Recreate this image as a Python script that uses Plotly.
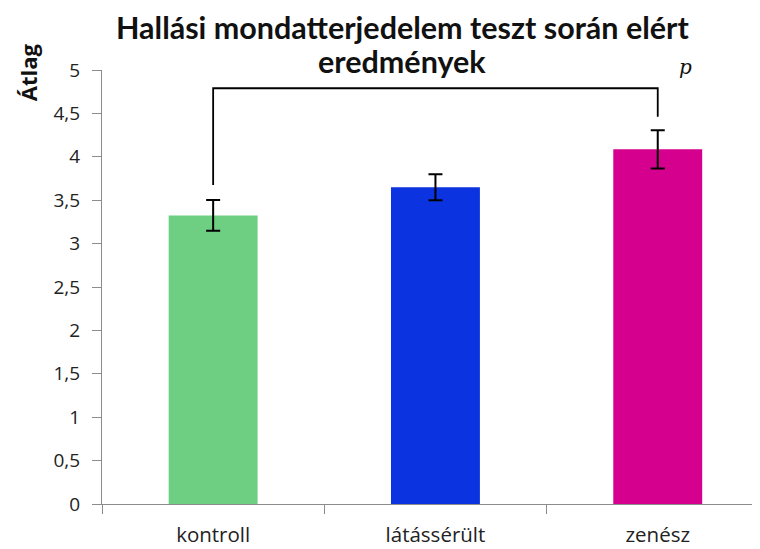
import plotly.graph_objects as go

categories = ["kontroll", "látássérült", "zenész"]
means = [3.325, 3.649, 4.086]
errors = [0.176, 0.15, 0.22]
bar_colors = ["#6ECE82", "#0B33E0", "#D6008F"]
y_ticks = [0, 0.5, 1, 1.5, 2, 2.5, 3, 3.5, 4, 4.5, 5]

bracket_x = ["kontroll", "kontroll", "zenész", "zenész"]
bracket_y = [3.675, 4.79, 4.79, 4.46]

title_lines = ["Hallási mondatterjedelem teszt során elért", "eredmények"]
y_title = "Átlag"
sig_label = "p"

fig = go.Figure()
fig.add_trace(go.Bar(
    x=categories, y=means, width=0.4,
    marker=dict(color=bar_colors, line=dict(width=0)),
    error_y=dict(type="data", array=errors, color="black", thickness=2, width=7),
    showlegend=False, hoverinfo="skip",
))
fig.add_trace(go.Scatter(
    x=bracket_x, y=bracket_y, mode="lines",
    line=dict(color="black", width=1.8), showlegend=False, hoverinfo="skip",
    cliponaxis=False,
))

ytick_font = dict(family="Open Sans, Lato, sans-serif", size=19, color="#222222")
xtick_font = dict(family="Open Sans, Lato, sans-serif", size=20.5, color="#222222")
title_font = dict(family="Lato, Open Sans, sans-serif", size=30.5, color="#111111", weight="bold")

fig.update_layout(
    width=752, height=541,
    margin=dict(l=94, r=0, t=62, b=45),
    paper_bgcolor="white", plot_bgcolor="white",
    separators=", ",
    xaxis=dict(
        type="category", range=[-0.5, 2.46], tickson="boundaries",
        showline=True, linecolor="#8c8c8c", linewidth=1.3,
        ticks="outside", ticklen=9, tickcolor="#8c8c8c", tickwidth=1.3,
        tickfont=xtick_font, showgrid=False, zeroline=False,
        ticklabelstandoff=12, automargin=False,
    ),
    yaxis=dict(
        range=[0, 5], tickvals=y_ticks,
        showline=True, linecolor="#8c8c8c", linewidth=1.3,
        ticks="outside", ticklen=9, tickcolor="#8c8c8c", tickwidth=1.3,
        tickfont=ytick_font, showgrid=False, zeroline=False,
        ticklabelstandoff=8, automargin=False,
    ),
    annotations=[
        dict(text=title_lines[0], xref="paper", yref="paper", x=0.456, y=1.1,
             xanchor="center", yanchor="middle", showarrow=False, font=title_font),
        dict(text=title_lines[1], xref="paper", yref="paper", x=0.456, y=1.02,
             xanchor="center", yanchor="middle", showarrow=False, font=title_font),
        dict(text=y_title, xref="paper", yref="paper", x=-0.1125, y=0.995,
             xanchor="center", yanchor="middle", textangle=-90, showarrow=False,
             font=dict(family="Open Sans, Lato, sans-serif", size=22, color="#111111", weight="bold")),
        dict(text="<i>" + sig_label + "</i>", xref="x", yref="paper", x=2.127, y=1.007,
             xanchor="center", yanchor="middle", showarrow=False,
             font=dict(family="DejaVu Serif, Liberation Serif, serif", size=20, color="#111111")),
    ],
)

fig.write_html("out.html")
